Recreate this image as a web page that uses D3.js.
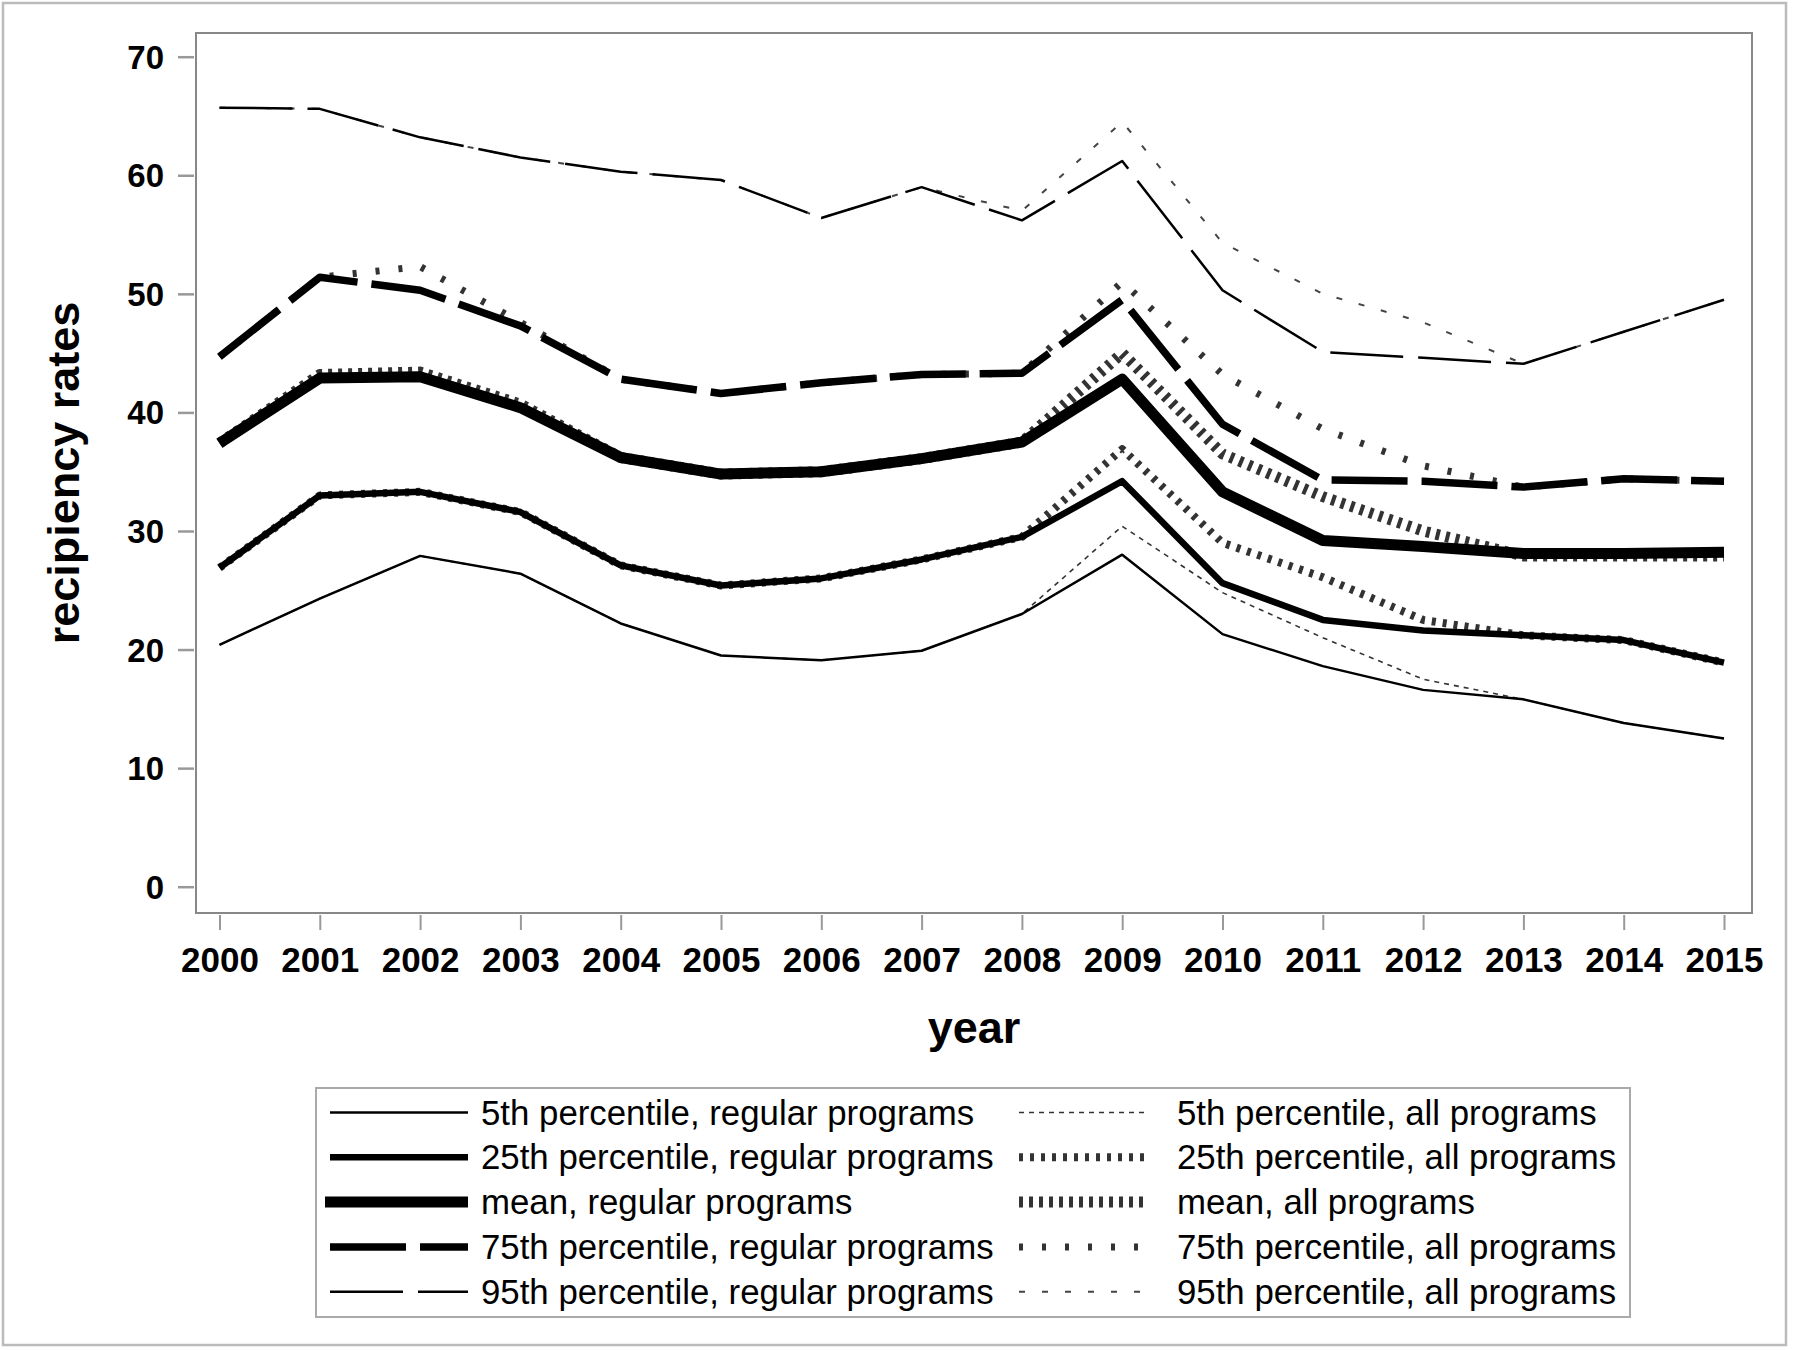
<!DOCTYPE html>
<html>
<head>
<meta charset="utf-8">
<script src="https://cdn.jsdelivr.net/npm/d3@7"></script>
<style>
  html, body { margin: 0; padding: 0; background: #fff; }
  svg { display: block; }
</style>
</head>
<body>
<svg id="chart" width="1800" height="1350"></svg>
<script>
// ---------- data ----------
const years = [2000, 2001, 2002, 2003, 2004, 2005, 2006, 2007, 2008, 2009, 2010, 2011, 2012, 2013, 2014, 2015];
const yTicks = [0, 10, 20, 30, 40, 50, 60, 70];

const p5Regular   = [20.4, 24.3, 27.9, 26.4, 22.2, 19.5, 19.1, 19.9, 23.0, 28.0, 21.3, 18.6, 16.6, 15.8, 13.8, 12.5];
const p25Regular  = [26.9, 33.0, 33.3, 31.6, 27.1, 25.4, 26.0, 27.6, 29.5, 34.2, 25.6, 22.5, 21.6, 21.2, 20.8, 18.9];
const meanRegular = [37.4, 42.9, 43.0, 40.4, 36.2, 34.8, 35.0, 36.1, 37.5, 42.8, 33.3, 29.2, 28.7, 28.1, 28.1, 28.2];
const p75Regular  = [44.7, 51.4, 50.3, 47.3, 42.8, 41.6, 42.5, 43.2, 43.3, 49.5, 39.0, 34.3, 34.2, 33.7, 34.4, 34.2];
const p95Regular  = [65.7, 65.6, 63.2, 61.5, 60.3, 59.6, 56.4, 59.0, 56.2, 61.2, 50.3, 45.1, 44.6, 44.1, 46.8, 49.5];

const p5All   = [20.4, 24.3, 27.9, 26.4, 22.2, 19.5, 19.1, 19.9, 23.0, 30.4, 24.8, 21.0, 17.5, 15.8, 13.8, 12.5];
const p25All  = [26.9, 33.0, 33.3, 31.6, 27.1, 25.4, 26.0, 27.6, 29.5, 36.9, 29.0, 26.1, 22.5, 21.2, 20.8, 18.9];
const meanAll = [37.4, 43.2, 43.4, 40.7, 36.2, 34.8, 35.0, 36.1, 37.5, 45.0, 36.5, 32.9, 30.0, 27.9, 27.9, 27.9];
const p75All  = [44.7, 51.4, 52.3, 47.6, 42.8, 41.6, 42.5, 43.2, 43.3, 51.0, 43.2, 38.6, 35.5, 33.7, 34.4, 34.2];
const p95All  = [65.7, 65.6, 63.2, 61.5, 60.3, 59.6, 56.4, 59.0, 57.0, 64.5, 54.3, 50.0, 47.6, 44.1, 46.8, 49.5];

const regularLabels = ["5th percentile, regular programs", "25th percentile, regular programs", "mean, regular programs",
                       "75th percentile, regular programs", "95th percentile, regular programs"];
const allLabels = ["5th percentile, all programs", "25th percentile, all programs", "mean, all programs",
                   "75th percentile, all programs", "95th percentile, all programs"];

// ---------- styles ----------
const regularStyles = [
  { w: 2.5, dash: null, color: "#000" },
  { w: 6.5, dash: null, color: "#000" },
  { w: 11, dash: null, color: "#000" },
  { w: 7.5, dash: "76,14", color: "#000" },
  { w: 2.5, dash: "73,15", color: "#000" }
];
const allStyles = [
  { w: 1.6, dash: "5,5", color: "#333" },
  { w: 8, dash: "4,7", color: "#333" },
  { w: 11, dash: "4,6", color: "#333" },
  { w: 7, dash: "4,19", color: "#333" },
  { w: 2, dash: "6,17", color: "#444" }
];

const regularSeries = [p5Regular, p25Regular, meanRegular, p75Regular, p95Regular];
const allSeries = [p5All, p25All, meanAll, p75All, p95All];

const FONT = "'Liberation Sans', Arial, Helvetica, sans-serif";

const svg = d3.select("#chart");

// outer border
svg.append("rect").attr("x", 3).attr("y", 3).attr("width", 1783).attr("height", 1342)
  .attr("fill", "#fff").attr("stroke", "#bbb").attr("stroke-width", 2.5);

const frame = { left: 196, right: 1752, top: 33, bottom: 913 };

const x = d3.scaleLinear().domain([2000, 2015]).range([219.5, 1724]);
const y = d3.scaleLinear().domain([0, 70]).range([886.7, 56.7]);

// frame
svg.append("rect").attr("x", frame.left).attr("y", frame.top)
  .attr("width", frame.right - frame.left).attr("height", frame.bottom - frame.top)
  .attr("fill", "none").attr("stroke", "#888").attr("stroke-width", 2);

// y axis
const yAxis = svg.append("g").attr("transform", `translate(${frame.left - 2},0)`)
  .call(d3.axisLeft(y).tickValues(yTicks).tickSize(16).tickPadding(14).tickFormat(d3.format("d")));
yAxis.select(".domain").remove();
yAxis.selectAll(".tick line").attr("stroke", "#999").attr("stroke-width", 2.5);
yAxis.selectAll(".tick text").attr("font-family", FONT).attr("font-weight", "bold")
  .attr("font-size", 33).attr("fill", "#000").attr("dy", "0.35em");

// x axis
const xAxis = svg.append("g").attr("transform", `translate(0,${frame.bottom + 2})`)
  .call(d3.axisBottom(x).tickValues(years).tickSize(15).tickPadding(17).tickFormat(d3.format("d")));
xAxis.select(".domain").remove();
xAxis.selectAll(".tick line").attr("stroke", "#999").attr("stroke-width", 2);
xAxis.selectAll(".tick text").attr("font-family", FONT).attr("font-weight", "bold")
  .attr("font-size", 35).attr("fill", "#000");

// axis titles
svg.append("text").attr("x", (frame.left + frame.right) / 2).attr("y", 1043)
  .attr("text-anchor", "middle").attr("font-family", FONT).attr("font-weight", "bold")
  .attr("font-size", 45).text("year");
svg.append("text").attr("transform", `translate(79,${(frame.top + frame.bottom) / 2}) rotate(-90)`)
  .attr("text-anchor", "middle").attr("font-family", FONT).attr("font-weight", "bold")
  .attr("font-size", 45).text("recipiency rates");

// lines
const line = d3.line().x((d, i) => x(years[i])).y(d => y(d));
const plot = svg.append("g");

function drawSeries(data, st) {
  plot.append("path").datum(data).attr("d", line)
    .attr("fill", "none").attr("stroke", st.color).attr("stroke-width", st.w)
    .attr("stroke-dasharray", st.dash).attr("stroke-linejoin", "round");
}
allSeries.forEach((s, i) => drawSeries(s, allStyles[i]));
regularSeries.forEach((s, i) => drawSeries(s, regularStyles[i]));

// legend
const leg = svg.append("g");
leg.append("rect").attr("x", 316).attr("y", 1088).attr("width", 1314).attr("height", 229)
  .attr("fill", "none").attr("stroke", "#aaa").attr("stroke-width", 2);
const rowY = d3.range(5).map(i => 1112.5 + i * 44.8);

function legendItem(x1, x2, tx, yy, st, label) {
  leg.append("line").attr("x1", x1).attr("x2", x2).attr("y1", yy).attr("y2", yy)
    .attr("stroke", st.color).attr("stroke-width", st.w).attr("stroke-dasharray", st.dash);
  leg.append("text").attr("x", tx).attr("y", yy + 12).attr("font-family", FONT)
    .attr("font-size", 34.8).attr("fill", "#000").text(label);
}
regularLabels.forEach((lab, i) => legendItem(i === 2 ? 325 : 330, 468, 481, rowY[i], regularStyles[i], lab));
allLabels.forEach((lab, i) => legendItem(1019, 1148, 1177, rowY[i], allStyles[i], lab));
</script>
</body>
</html>
